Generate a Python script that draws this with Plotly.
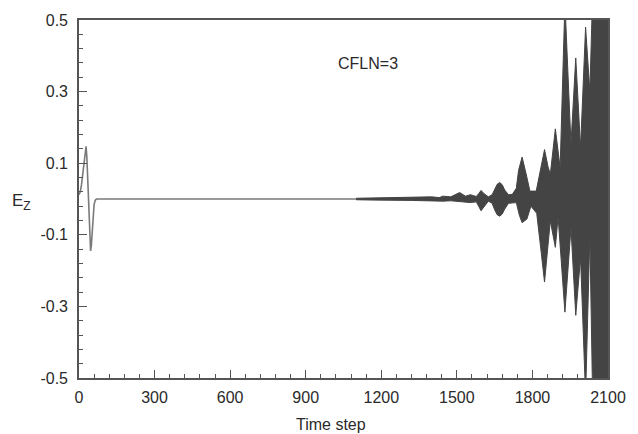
import plotly.graph_objects as go

# ---- data ----
# initial pulse + flat baseline (time step, Ez)
pulse_steps = [0, 5, 10, 15, 20, 25, 28, 31, 34, 37, 40, 43, 46, 49, 52, 56, 60, 65, 70, 2100]
pulse_vals = [0.012, 0.02, 0.04, 0.07, 0.11, 0.138, 0.147, 0.12, 0.06, 0.0, -0.06, -0.12, -0.145,
              -0.13, -0.09, -0.045, -0.015, -0.003, 0.0, 0.0]

# upper envelope of the unstable oscillation
upper_steps = [1100, 1166, 1321, 1399, 1430, 1445, 1476, 1500, 1511, 1525, 1534, 1554, 1577, 1588,
               1596, 1608, 1625, 1640, 1650, 1660, 1670, 1680, 1690, 1705, 1720, 1736, 1745, 1759,
               1775, 1790, 1815, 1830, 1848, 1862, 1871, 1891, 1910, 1929, 1953, 1972, 1991, 2011,
               2028, 2040, 2100]
upper_vals = [0.002, 0.003, 0.004, 0.006, 0.004, 0.008, 0.006, 0.014, 0.018, 0.012, 0.008, 0.012,
              0.007, 0.016, 0.024, 0.015, 0.006, 0.012, 0.028, 0.041, 0.046, 0.04, 0.025, 0.012,
              0.013, 0.03, 0.08, 0.117, 0.07, 0.022, 0.022, 0.08, 0.138, 0.09, 0.069, 0.196, 0.087,
              0.55, 0.153, 0.394, 0.143, 0.48, 0.3, 0.6, 0.6]

# lower envelope of the unstable oscillation
lower_steps = [1100, 1166, 1321, 1399, 1445, 1476, 1511, 1554, 1577, 1588, 1596, 1608, 1625, 1640,
               1650, 1660, 1670, 1680, 1690, 1705, 1736, 1748, 1759, 1778, 1794, 1817, 1835, 1848,
               1871, 1891, 1902, 1929, 1953, 1972, 1991, 2011, 2028, 2040, 2100]
lower_vals = [-0.002, -0.003, -0.004, -0.005, -0.006, -0.005, -0.007, -0.01, -0.008, -0.022, -0.033,
              -0.02, -0.006, -0.012, -0.03, -0.044, -0.048, -0.042, -0.028, -0.012, -0.01, -0.045,
              -0.066, -0.056, -0.02, -0.04, -0.15, -0.232, -0.061, -0.135, -0.05, -0.316, -0.08,
              -0.325, -0.163, -0.55, -0.1, -0.6, -0.6]

x_tick_vals = [0, 300, 600, 900, 1200, 1500, 1800, 2100]
x_tick_text = ["0", "300", "600", "900", "1200", "1500", "1800", "2100"]
y_tick_vals = [-0.5, -0.3, -0.1, 0.1, 0.3, 0.5]
y_tick_text = ["-0.5", "-0.3", "-0.1", "0.1", "0.3", "0.5"]

FONT = "Liberation Sans, Arial, sans-serif"
AX = "#555555"
TXT = "#2a2a2a"

# plot area target: x 79..621, y 18..378 of the 638x434 window
W, H = 638, 434
L, T, R, B = 79, 18, 17, 56
PW, PH = W - L - R, H - T - B

fig = go.Figure()
fig.add_trace(go.Scatter(x=pulse_steps, y=pulse_vals, mode="lines",
                         line=dict(color="#7a7a7a", width=1.6), hoverinfo="skip"))
poly_x = upper_steps + lower_steps[::-1]
poly_y = upper_vals + lower_vals[::-1]
fig.add_trace(go.Scatter(x=poly_x, y=poly_y, mode="lines", fill="toself",
                         fillcolor="#444444", line=dict(color="#444444", width=1),
                         hoverinfo="skip"))

fig.update_layout(
    width=W, height=H, autosize=False,
    margin=dict(l=L, r=R, t=T, b=B),
    paper_bgcolor="white", plot_bgcolor="white",
    showlegend=False,
    font=dict(family=FONT, size=16, color=TXT),
    xaxis=dict(range=[0, 2100], tickvals=x_tick_vals, ticktext=x_tick_text,
               ticks="inside", ticklen=8, tickwidth=1.3, tickcolor=AX,
               minor=dict(dtick=60, tick0=0, ticks="inside", ticklen=4, tickcolor=AX, tickwidth=1.2),
               showline=True, linecolor=AX, linewidth=1.6, mirror=True,
               showgrid=False, zeroline=False, ticklabelstandoff=4,
               ticklabeloverflow="allow"),
    yaxis=dict(range=[-0.5, 0.5], tickvals=y_tick_vals, ticktext=y_tick_text,
               ticks="inside", ticklen=8, tickwidth=1.3, tickcolor=AX,
               minor=dict(dtick=0.04, tick0=0.1, ticks="inside", ticklen=4, tickcolor=AX, tickwidth=1.2),
               showline=True, linecolor=AX, linewidth=1.6, mirror=True,
               showgrid=False, zeroline=False, ticklabelstandoff=6),
)

def px_x(px):
    return (px - L) / PW

def px_y(py):
    return (H - B - py) / PH

def label(text, px, py, size):
    fig.add_annotation(text=text, xref="paper", yref="paper",
                       x=px_x(px), y=px_y(py), xanchor="center", yanchor="middle",
                       showarrow=False, font=dict(size=size, family=FONT, color=TXT))

label("Time step", 337, 425, 16)
label("E<sub>Z</sub>", 20, 201, 17)
label("CFLN=3", 375, 62, 16)

# remove the browser's default 8px body margin so the figure fills the window exactly
fig.write_html("out.html",
               config={"displayModeBar": False, "responsive": False},
               post_script="document.body.style.margin='0';document.body.style.overflow='hidden';")
